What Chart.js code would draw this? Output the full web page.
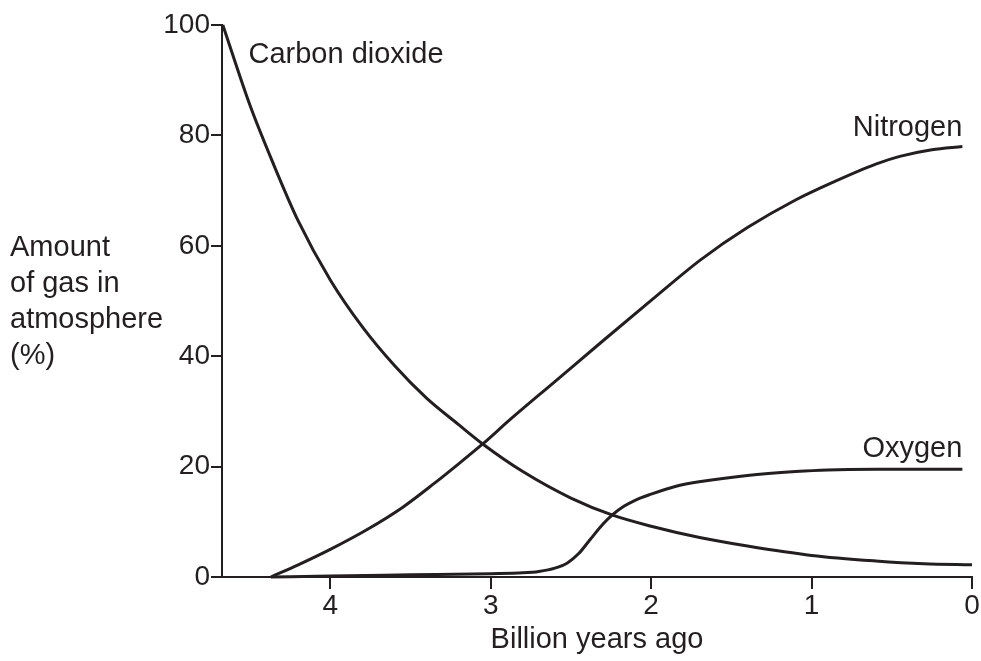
<!DOCTYPE html>
<html>
<head>
<meta charset="utf-8">
<script src="https://cdn.jsdelivr.net/npm/chart.js@4"></script>
<style>
  html, body { margin: 0; padding: 0; background: #ffffff; }
  #wrap { width: 981px; height: 661px; position: relative; }
</style>
</head>
<body>
<div id="wrap"><canvas id="c" width="981" height="661"></canvas></div>
<script>
// ---- Data ----
const xTickValues = [4, 3, 2, 1, 0];
const yTickValues = [0, 20, 40, 60, 80, 100];

const co2Years  = [4.67, 4.5, 4.36, 4.2, 4.0, 3.8, 3.6, 3.4, 3.2, 3.05, 2.8, 2.5, 2.24, 2.0, 1.69, 1.4, 1.0, 0.6, 0.3, 0.0];
const co2Values = [100, 85.4, 75.2, 64.5, 53.8, 45.3, 38.3, 32.4, 27.6, 24.1, 19.1, 14.3, 11.2, 9.2, 7.1, 5.6, 3.9, 2.9, 2.4, 2.2];

const n2Years  = [4.37, 4.2, 4.0, 3.77, 3.55, 3.35, 3.2, 3.05, 2.88, 2.6, 2.3, 2.0, 1.69, 1.4, 1.1, 0.86, 0.6, 0.45, 0.25, 0.06];
const n2Values = [0, 2.2, 5, 8.6, 12.6, 17, 20.5, 24.1, 28.5, 35.4, 42.8, 50.1, 57.5, 63.3, 68.3, 71.6, 74.8, 76.2, 77.4, 78];

const o2Years  = [4.37, 4.0, 3.5, 3.0, 2.8, 2.7, 2.6, 2.52, 2.45, 2.38, 2.3, 2.24, 2.17, 2.1, 2.0, 1.85, 1.69, 1.4, 1.1, 0.9, 0.6, 0.3, 0.06];
const o2Values = [0, 0.2, 0.4, 0.6, 0.75, 1.0, 1.6, 2.6, 4.3, 6.8, 9.6, 11.3, 12.8, 13.9, 15.0, 16.4, 17.3, 18.4, 19.1, 19.4, 19.5, 19.5, 19.5];

const seriesNames = ['Carbon dioxide', 'Nitrogen', 'Oxygen'];
const xTitle = 'Billion years ago';
const yTitleLines = ['Amount', 'of gas in', 'atmosphere', '(%)'];
const xMaxValue = 4.675;

// ---- Styling ----
const INK = '#231f20';
const FONT = "'Liberation Sans', Arial, Helvetica, sans-serif";

function pairs(xs, ys) { return xs.map((x, i) => ({ x: x, y: ys[i] })); }

function lineDs(label, data) {
  return {
    label: label,
    data: data,
    borderColor: INK,
    borderWidth: 3,
    pointRadius: 0,
    pointHoverRadius: 0,
    fill: false,
    cubicInterpolationMode: 'monotone',
    clip: false
  };
}

// Series label anchors (data coordinates) – placement only
const labelAnchors = [
  { text: seriesNames[0], x: 4.51, y: 94.6, align: 'left' },
  { text: seriesNames[1], x: 0.06, y: 81.4, align: 'right' },
  { text: seriesNames[2], x: 0.06, y: 23.1, align: 'right' }
];

const annotatePlugin = {
  id: 'annotate',
  afterDraw(chart) {
    const ctx = chart.ctx;
    const xs = chart.scales.x, ys = chart.scales.y;
    ctx.save();
    ctx.fillStyle = INK;
    ctx.font = '29px ' + FONT;
    ctx.textBaseline = 'middle';
    labelAnchors.forEach(a => {
      ctx.textAlign = a.align;
      ctx.fillText(a.text, xs.getPixelForValue(a.x), ys.getPixelForValue(a.y));
    });
    // Y axis title (horizontal, multi-line)
    ctx.textAlign = 'left';
    const top = 248, step = 36;
    yTitleLines.forEach((t, i) => ctx.fillText(t, 10, top + i * step));
    ctx.restore();
  }
};

const bgPlugin = {
  id: 'bg',
  beforeDraw(chart) {
    const ctx = chart.ctx;
    ctx.save();
    ctx.fillStyle = '#ffffff';
    ctx.fillRect(0, 0, chart.width, chart.height);
    ctx.restore();
  }
};

new Chart(document.getElementById('c'), {
  type: 'line',
  data: {
    datasets: [
      lineDs(seriesNames[0], pairs(co2Years, co2Values)),
      lineDs(seriesNames[1], pairs(n2Years, n2Values)),
      lineDs(seriesNames[2], pairs(o2Years, o2Values))
    ]
  },
  options: {
    responsive: false,
    animation: false,
    events: [],
    layout: { padding: { top: 25, right: 9, left: 0, bottom: 0 } },
    plugins: {
      legend: { display: false },
      tooltip: { enabled: false },
      title: { display: false }
    },
    scales: {
      x: {
        type: 'linear',
        reverse: true,
        min: 0,
        max: xMaxValue,
        afterBuildTicks(scale) { scale.ticks = xTickValues.map(v => ({ value: v })); },
        afterFit(scale) { scale.height = 84; },
        border: { display: true, color: INK, width: 2 },
        grid: { drawOnChartArea: false, drawTicks: true, tickLength: 12, color: INK, lineWidth: 2 },
        ticks: {
          color: INK,
          font: { family: FONT, size: 28 },
          padding: 0,
          maxRotation: 0,
          autoSkip: false,
          callback: v => String(v)
        },
        title: {
          display: true,
          text: xTitle,
          color: INK,
          font: { family: FONT, size: 29 },
          padding: { top: 0, bottom: 4 }
        }
      },
      y: {
        type: 'linear',
        min: 0,
        max: 100,
        afterBuildTicks(scale) { scale.ticks = yTickValues.map(v => ({ value: v })); },
        afterFit(scale) { scale.width = 222; },
        border: { display: true, color: INK, width: 2 },
        grid: { drawOnChartArea: false, drawTicks: true, tickLength: 11, color: INK, lineWidth: 2 },
        ticks: {
          color: INK,
          font: { family: FONT, size: 28 },
          padding: 1,
          autoSkip: false,
          callback: v => String(v)
        }
      }
    }
  },
  plugins: [bgPlugin, annotatePlugin]
});
</script>
</body>
</html>
